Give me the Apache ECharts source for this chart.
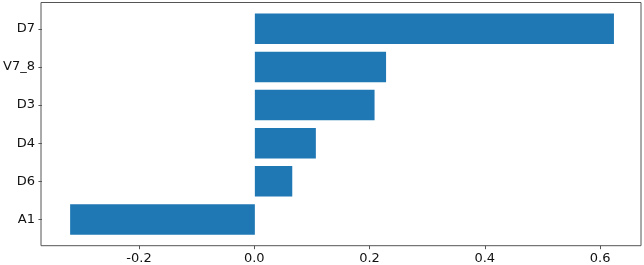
<!DOCTYPE html>
<html>
<head>
<meta charset="utf-8">
<script src="https://cdn.jsdelivr.net/npm/echarts@6/dist/echarts.min.js"></script>
<style>
html,body{margin:0;padding:0;background:#fff;}
#chart{width:644px;height:265px;}
</style>
</head>
<body>
<div id="chart"></div>
<script>
const categories = ['A1', 'D6', 'D4', 'D3', 'V7_8', 'D7'];
const values = [-0.321, 0.065, 0.106, 0.208, 0.228, 0.624];
const xTicks = [-0.2, 0.0, 0.2, 0.4, 0.6];
const xMin = -0.37, xMax = 0.671;

const font = 'DejaVu Sans';
const frameColor = '#555';
const chart = echarts.init(document.getElementById('chart'), null, {renderer: 'canvas'});
chart.setOption({
  animation: false,
  backgroundColor: '#fff',
  grid: [
    {left: 41, right: 3, top: 2.5, bottom: 19.3, show: true, borderColor: frameColor, borderWidth: 1, backgroundColor: 'transparent'},
    {left: 41, right: 3, top: 9.7, bottom: 26.5}
  ],
  xAxis: [
    {
      type: 'value', gridIndex: 0, min: xMin, max: xMax,
      axisLine: {show: false, onZero: false},
      splitLine: {show: false},
      axisTick: {show: true, length: 3.5, lineStyle: {color: frameColor}, customValues: xTicks},
      axisLabel: {
        customValues: xTicks, margin: 6, color: '#111', fontFamily: font, fontSize: 13,
        formatter: v => v.toFixed(1)
      }
    },
    {
      type: 'value', gridIndex: 1, min: xMin, max: xMax, show: false,
      axisLine: {onZero: false}
    }
  ],
  yAxis: [
    {type: 'value', gridIndex: 0, show: false, axisLine: {onZero: false}},
    {
      type: 'category', gridIndex: 1, data: categories, position: 'left',
      axisLine: {show: false, onZero: false},
      axisTick: {show: true, alignWithLabel: true, length: 3.5, lineStyle: {color: frameColor}},
      axisLabel: {margin: 7, color: '#111', fontFamily: font, fontSize: 13},
      splitLine: {show: false}
    }
  ],
  series: [{
    type: 'bar', xAxisIndex: 1, yAxisIndex: 1,
    data: values, barWidth: '80%',
    itemStyle: {color: '#1f77b4'}
  }]
});
</script>
</body>
</html>
